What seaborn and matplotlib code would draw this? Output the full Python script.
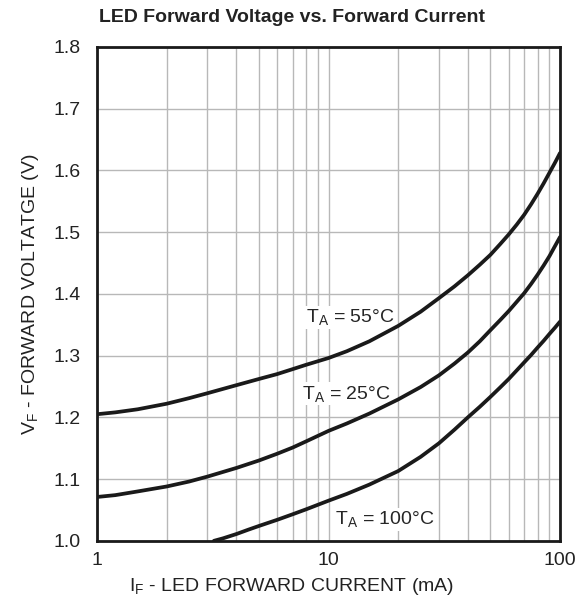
import pandas as pd
import seaborn as sns
import matplotlib.pyplot as plt

# forward current (mA) and forward voltage (V)
current_55 = [1, 1.2, 1.5, 2, 2.5, 3, 4, 5, 6, 7, 8, 10, 12, 15, 20, 25, 30, 35, 40,
              45, 50, 55, 60, 65, 70, 75, 80, 85, 90, 95, 100]
voltage_55 = [1.205, 1.208, 1.213, 1.222, 1.231, 1.239, 1.252, 1.262, 1.270, 1.278,
              1.285, 1.296, 1.307, 1.323, 1.348, 1.371, 1.393, 1.412, 1.430, 1.447,
              1.463, 1.480, 1.496, 1.512, 1.528, 1.545, 1.562, 1.579, 1.596, 1.612, 1.628]

current_25 = [1, 1.2, 1.5, 2, 2.5, 3, 4, 5, 6, 7, 8, 10, 12, 15, 20, 25, 30, 35, 40,
              45, 50, 55, 60, 65, 70, 75, 80, 85, 90, 95, 100]
voltage_25 = [1.071, 1.074, 1.080, 1.088, 1.096, 1.104, 1.118, 1.130, 1.141, 1.151,
              1.161, 1.178, 1.190, 1.206, 1.229, 1.249, 1.268, 1.287, 1.305, 1.323,
              1.341, 1.357, 1.372, 1.387, 1.401, 1.416, 1.431, 1.446, 1.461, 1.477, 1.492]

current_100 = [3.2, 3.5, 4, 4.5, 5, 6, 7, 8, 10, 12, 15, 20, 25, 30, 35, 40, 45, 50,
               55, 60, 65, 70, 75, 80, 85, 90, 95, 100]
voltage_100 = [1.000, 1.004, 1.011, 1.018, 1.024, 1.034, 1.043, 1.051, 1.065, 1.076,
               1.091, 1.113, 1.136, 1.158, 1.180, 1.200, 1.217, 1.233, 1.248, 1.262,
               1.276, 1.289, 1.301, 1.313, 1.324, 1.335, 1.345, 1.355]

curve_names = ['55', '25', '100']
x_ticks = [1, 10, 100]
x_tick_labels = ['1', '10', '100']
y_ticks = [1.0, 1.1, 1.2, 1.3, 1.4, 1.5, 1.6, 1.7, 1.8]

df = pd.concat([
    pd.DataFrame({'current': current_55, 'voltage': voltage_55, 'curve': '55'}),
    pd.DataFrame({'current': current_25, 'voltage': voltage_25, 'curve': '25'}),
    pd.DataFrame({'current': current_100, 'voltage': voltage_100, 'curve': '100'}),
])

sns.set_style('white')
plt.rcParams['font.family'] = ['Liberation Sans', 'DejaVu Sans']
plt.rcParams['mathtext.fontset'] = 'custom'
plt.rcParams['mathtext.rm'] = 'Liberation Sans'
plt.rcParams['mathtext.it'] = 'Liberation Sans'
plt.rcParams['mathtext.default'] = 'regular'

fig = plt.figure(figsize=(5.84, 6.07), dpi=100)
ax = fig.add_axes([0.166, 0.109, 0.793, 0.814])

sns.lineplot(data=df, x='current', y='voltage', hue='curve', hue_order=curve_names,
             palette=['#1a1a1a'] * 3, linewidth=2.7, legend=False, ax=ax, zorder=3)

ax.set_xscale('log')
ax.set_xlim(1, 100)
ax.set_ylim(1.0, 1.8)
ax.set_xticks(x_ticks)
ax.set_xticklabels(x_tick_labels)
ax.set_yticks(y_ticks)
ax.set_yticklabels([f'{v:.1f}' for v in y_ticks])
ax.tick_params(axis='both', which='both', length=0, labelsize=14, colors='#222222')
ax.tick_params(axis='y', pad=12)
ax.tick_params(axis='x', pad=8)

ax.grid(True, which='major', color='#b8b8b8', linewidth=1.0)
ax.grid(True, which='minor', axis='x', color='#b8b8b8', linewidth=1.0)
for s in ax.spines.values():
    s.set_color('#1a1a1a')
    s.set_linewidth(2.0)
    s.set_visible(True)

label_box = dict(facecolor='white', edgecolor='none', pad=1)
ax.text(12.4, 1.362, r'T$_A$ = 55°C', fontsize=14, ha='center', va='center',
        bbox=label_box, zorder=2)
ax.text(12.0, 1.238, r'T$_A$ = 25°C', fontsize=14, ha='center', va='center',
        bbox=label_box, zorder=2)
ax.text(17.5, 1.035, r'T$_A$ = 100°C', fontsize=14, ha='center', va='center',
        bbox=label_box, zorder=2)

ax.set_xlabel(r'I$_F$ - LED FORWARD CURRENT (mA)', fontsize=14, color='#222222', labelpad=5)
ax.xaxis.label.set_x(0.421)  # centred on the figure, not the axes
ax.set_ylabel(r'V$_F$ - FORWARD VOLTATGE (V)', fontsize=14, color='#222222', labelpad=9)
fig.suptitle('LED Forward Voltage vs. Forward Current', x=0.5, y=0.971, va='center',
             fontsize=14, fontweight='bold', color='#222222')

fig.savefig('out.png', dpi=100)
